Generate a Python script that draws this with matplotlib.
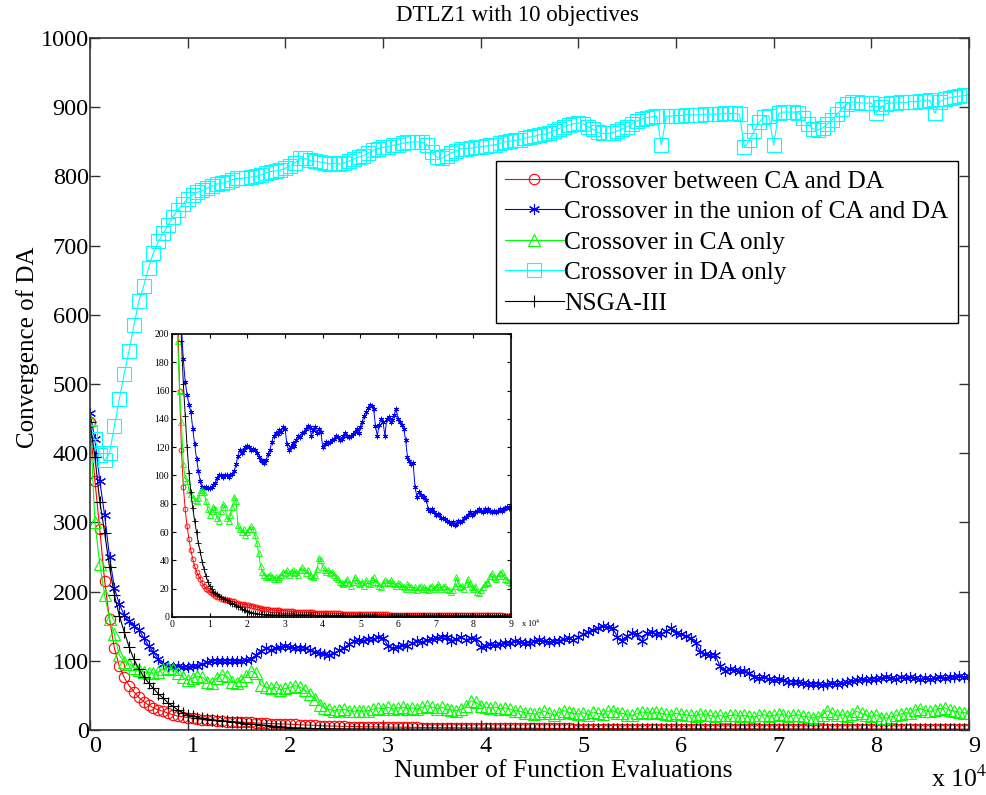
import numpy as np
import matplotlib
matplotlib.use("Agg")
import matplotlib.pyplot as plt
from matplotlib.transforms import ScaledTranslation

plt.rcParams['font.family'] = ['Liberation Serif', 'DejaVu Serif']
plt.rcParams['mathtext.fontset'] = 'stix'

# convergence of DA, sampled every 500 function evaluations (0 .. 90000)
evals = np.arange(0, 90001, 500)

conv_between = [
    445, 360, 290, 215, 160, 118, 92, 76, 64, 55, 47, 41, 36, 32, 29, 27, 24, 22, 20, 19,
    18, 17, 16, 15, 14, 14, 13, 13, 12, 12, 12, 11, 11, 11, 10, 10, 9.5, 9.2, 9, 8.8,
    8.5, 8.3, 8, 7.8, 7.4, 7, 6.6, 6.3, 6, 5.8, 5.6, 5.4, 5.2, 5, 4.9, 4.8, 4.7, 4.6, 4.5, 4.4,
    4.3, 4.2, 4.1, 4, 3.9, 3.8, 3.7, 3.6, 3.5, 3.5, 3.4, 3.4, 3.3, 3.3, 3.2, 3.2, 3.1, 3.1, 3, 3,
    2.9, 2.9, 2.8, 2.8, 2.7, 2.7, 2.6, 2.6, 2.5, 2.5, 2.4, 2.4, 2.4, 2.3, 2.3, 2.3, 2.2, 2.2, 2.2, 2.1,
    2.1, 2.1, 2, 2, 2, 2, 1.9, 1.9, 1.9, 1.9, 1.8, 1.8, 1.8, 1.8, 1.8, 1.7, 1.7, 1.7, 1.7, 1.7,
    1.7, 1.6, 1.6, 1.6, 1.6, 1.6, 1.6, 1.5, 1.5, 1.5, 1.5, 1.5, 1.5, 1.5, 1.4, 1.4, 1.4, 1.4, 1.4, 1.4,
    1.4, 1.4, 1.3, 1.3, 1.3, 1.3, 1.3, 1.3, 1.3, 1.3, 1.3, 1.2, 1.2, 1.2, 1.2, 1.2, 1.2, 1.2, 1.2, 1.2,
    1.2, 1.2, 1.2, 1.2, 1.1, 1.1, 1.1, 1.1, 1.1, 1.1, 1.1, 1.1, 1.1, 1.1, 1.1, 1.1, 1.0, 1.0, 1.0, 1.0,
    1.0,
]

conv_union = [
    458, 420, 360, 310, 250, 205, 182, 166, 157, 150, 145, 133, 122, 112, 103, 96, 92, 91, 92, 91,
    91, 92, 93, 95, 98, 100, 100, 99, 100, 100, 99, 100, 101, 103, 108, 114, 118, 116, 118, 120,
    121, 120, 118, 119, 118, 116, 113, 111, 110, 109, 111, 115, 118, 124, 128, 130, 129, 132, 131, 134,
    133, 122, 118, 120, 123, 121, 125, 128, 127, 130, 131, 133, 135, 134, 128, 132, 134, 130, 133, 131,
    120, 122, 124, 123, 124, 125, 126, 128, 127, 125, 126, 128, 130, 128, 127, 128, 129, 131, 133, 130,
    134, 138, 142, 145, 148, 150, 149, 147, 135, 128, 136, 140, 138, 128, 140, 141, 138, 139, 143, 147,
    140, 138, 136, 133, 125, 113, 110, 108, 109, 92, 85, 88, 86, 85, 85, 83, 76, 75, 76, 74,
    72, 73, 72, 70, 70, 69, 68, 67, 66, 67, 65, 66, 68, 67, 68, 70, 71, 72, 74, 72,
    73, 74, 75, 76, 75, 74, 76, 75, 76, 75, 74, 75, 74, 75, 76, 75, 76, 77, 78, 77,
    78,
]

conv_ca_only = [
    448, 300, 240, 195, 160, 138, 108, 98, 96, 90, 87, 84, 83, 82, 84, 88, 90, 88, 82, 76,
    72, 75, 78, 76, 70, 68, 75, 80, 78, 70, 68, 72, 78, 85, 82, 65, 62, 60, 62, 58,
    60, 62, 64, 62, 58, 52, 45, 36, 32, 30, 28, 29, 30, 28, 27, 28, 27, 28, 30, 32,
    31, 33, 30, 32, 33, 31, 32, 30, 33, 35, 33, 31, 33, 30, 29, 28, 30, 34, 42, 40,
    35, 33, 32, 33, 31, 32, 30, 28, 27, 25, 24, 23, 25, 27, 24, 22, 25, 28, 26, 24,
    23, 25, 22, 26, 24, 23, 27, 28, 25, 24, 22, 21, 24, 26, 25, 24, 26, 24, 23, 22,
    24, 23, 22, 21, 20, 23, 22, 21, 20, 21, 19, 21, 22, 20, 21, 20, 19, 21, 22, 20,
    21, 23, 22, 20, 21, 22, 20, 19, 18, 19, 22, 28, 24, 21, 22, 20, 23, 27, 24, 21,
    20, 22, 18, 17, 19, 21, 23, 25, 24, 29, 31, 28, 27, 29, 31, 32, 29, 27, 26, 25,
    24,
]

conv_da_only = [
    430, 420, 398, 390, 400, 440, 478, 515, 548, 585, 620, 642, 668, 690, 706, 718, 730, 742, 752, 760,
    768, 773, 777, 780, 783, 786, 789, 790, 792, 795, 797, 797, 798, 799, 800, 802, 805, 807, 808, 809,
    812, 815, 820, 826, 826, 823, 822, 821, 820, 818, 819, 818, 819, 822, 825, 828, 830, 834, 838, 840,
    842, 843, 845, 846, 848, 849, 850, 850, 849, 846, 835, 828, 826, 830, 834, 837, 840, 840, 841, 842,
    843, 844, 845, 846, 848, 850, 851, 852, 853, 855, 857, 858, 860, 861, 863, 866, 869, 872, 874, 876,
    877, 876, 872, 868, 864, 862, 862, 863, 866, 869, 872, 876, 880, 883, 885, 886, 887, 845, 887, 887,
    888, 888, 889, 889, 889, 889, 890, 890, 890, 890, 891, 891, 891, 890, 842, 852, 866, 878, 886, 888,
    845, 891, 893, 893, 893, 892, 885, 875, 869, 867, 870, 876, 882, 890, 898, 905, 908, 907, 906, 906,
    906, 892, 900, 905, 906, 906, 907, 907, 908, 908, 909, 909, 910, 891, 908, 912, 914, 915, 916, 917,
    918,
]

conv_nsga3 = [
    445, 395, 330, 285, 235, 195, 165, 142, 120, 102, 88, 77, 68, 60, 52, 46, 39, 34, 29, 25,
    22, 20, 18, 17, 16, 15, 14, 13, 13, 12, 11, 10, 9, 9, 8, 7, 7, 6, 5, 5,
    4, 3.5, 3, 3, 2.5, 2.2, 2, 2, 1.8, 1.8, 1.7, 1.7, 1.6, 1.6, 1.5, 1.5, 1.5, 1.4, 1.4, 1.4,
    1.4, 1.3, 1.3, 1.3, 1.3, 1.2, 1.2, 1.2, 1.2, 1.2, 1.2, 1.1, 1.1, 1.1, 1.1, 1.1, 1.1, 1.1, 1.0, 1.0,
    1.0, 1.0, 1.0, 1.0, 1.0, 1.0, 1.0, 1.0, 1.0, 1.0, 0.9, 0.9, 0.9, 0.9, 0.9, 0.9, 0.9, 0.9, 0.9, 0.9,
    0.9, 0.9, 0.9, 0.9, 0.9, 0.9, 0.9, 0.9, 0.9, 0.9, 0.8, 0.8, 0.8, 0.8, 0.8, 0.8, 0.8, 0.8, 0.8, 0.8,
    0.8, 0.8, 0.8, 0.8, 0.8, 0.8, 0.8, 0.8, 0.8, 0.8, 0.8, 0.8, 0.8, 0.8, 0.8, 0.8, 0.8, 0.8, 0.8, 0.8,
    0.8, 0.8, 0.8, 0.8, 0.8, 0.8, 0.8, 0.8, 0.8, 0.8, 0.7, 0.7, 0.7, 0.7, 0.7, 0.7, 0.7, 0.7, 0.7, 0.7,
    0.7, 0.7, 0.7, 0.7, 0.7, 0.7, 0.7, 0.7, 0.7, 0.7, 0.7, 0.7, 0.7, 0.7, 0.7, 0.7, 0.7, 0.7, 0.7, 0.7,
    0.7,
]

labels = ['Crossover between CA and DA', 'Crossover in the union of CA and DA',
          'Crossover in CA only', 'Crossover in DA only', 'NSGA-III']
series = [conv_between, conv_union, conv_ca_only, conv_da_only, conv_nsga3]
colors = ['#ff0000', '#0000ff', '#00ff00', '#00ffff', '#000000']
markers = ['o', (6, 2, 0), '^', 's', '+']
msize_main = [7.5, 8, 9, 9.5, 9]
msize_inset = [3.5, 4, 4.5, 4.5, 4.5]

fig = plt.figure(figsize=(9.87, 7.95), dpi=100)
ax = fig.add_axes([0.0912, 0.0818, 0.8906, 0.8704])

for y, lab, c, m, ms in zip(series, labels, colors, markers, msize_main):
    ax.plot(evals, y, color=c, marker=m, markersize=ms, markerfacecolor='none',
            markeredgecolor=c, markeredgewidth=0.8, linewidth=0.8, label=lab)

ax.set_xlim(0, 90000)
ax.set_ylim(0, 1000)
ax.set_xticks(np.arange(0, 90001, 10000))
ax.set_xticklabels([str(i) for i in range(10)])
ax.set_yticks(np.arange(0, 1001, 100))
ax.tick_params(direction='in', top=True, right=True, length=7, width=1,
               labelsize=17.5, pad=4, color='#333333')
ax.tick_params(axis='y', pad=1)
for s in ax.spines.values():
    s.set_color('#333333')
    s.set_linewidth(1.2)

# x tick labels sit a few pixels right of their ticks
shift = ScaledTranslation(5 / 100, 0, fig.dpi_scale_trans)
for t in ax.get_xticklabels():
    t.set_transform(t.get_transform() + shift)

ax.set_xlabel('Number of Function Evaluations', fontsize=18.5)
ax.xaxis.set_label_coords(0.538, -0.044)
ax.set_ylabel('Convergence of DA', fontsize=18)
ax.yaxis.set_label_coords(-0.058, 0.553)
fig.text(0.524, 0.981, 'DTLZ1 with 10 objectives', ha='center', va='center', fontsize=16.5)
fig.text(0.943, 0.004, r'x 10$^{4}$', ha='left', va='bottom', fontsize=18.5)

leg = ax.legend(loc='upper right', bbox_to_anchor=(0.987, 0.822), borderaxespad=0,
                fontsize=18.3, numpoints=1, handlelength=2.35, handletextpad=0.0,
                labelspacing=0.3, borderpad=0.35, fancybox=False, framealpha=1)
leg.get_frame().set_edgecolor('black')
leg.get_frame().set_linewidth(1.0)

# zoomed view of the lower part
axin = fig.add_axes([0.1743, 0.2239, 0.3435, 0.356])
for y, c, m, ms in zip(series, colors, markers, msize_inset):
    axin.plot(evals / 10000, y, color=c, marker=m, markersize=ms, markerfacecolor='none',
              markeredgecolor=c, markeredgewidth=0.6, linewidth=0.7)
axin.set_xlim(0, 9)
axin.set_ylim(0, 200)
axin.set_xticks(range(10))
axin.set_yticks(np.arange(0, 201, 20))
axin.tick_params(direction='in', top=True, right=True, length=3, width=0.8,
                 labelsize=7, pad=2)
for s in axin.spines.values():
    s.set_linewidth(1.2)
axin.text(1.03, -0.022, r'x 10$^{4}$', transform=axin.transAxes, fontsize=6,
          ha='left', va='center', clip_on=False)

fig.savefig('out.png', dpi=100)
